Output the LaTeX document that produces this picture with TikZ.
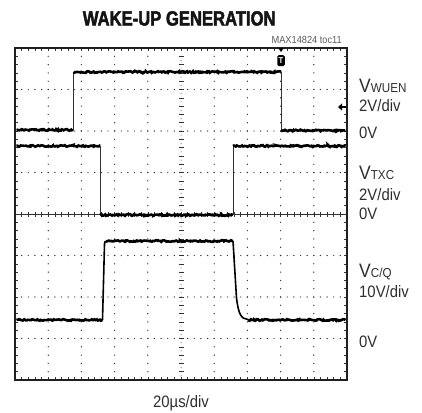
\documentclass[tikz,border=0pt]{standalone}
\usepackage{fontspec}
\setmainfont{Liberation Sans}
\newfontfamily\labfont[FakeStretch=0.9]{Liberation Sans}
\newfontfamily\titlefont[FakeStretch=0.81,FakeBold=2.2]{Liberation Sans Bold}
\usetikzlibrary{decorations.pathmorphing}
\definecolor{gridc}{HTML}{333333}
\newcommand\vlab[1]{{\fontsize{19.5}{20}\selectfont V}\raisebox{-0.6bp}{\fontsize{13}{13}\selectfont #1}}
\tikzset{
  lab/.style={anchor=base west, inner sep=0pt, text=black!82, font=\labfont\fontsize{16.6}{18}\selectfont},
  plateau/.style={line width=2.6bp, black, decorate, decoration={random steps, segment length=1.2bp, amplitude=0.8bp}},
  sigedge/.style={line width=0.9bp, black!80},
  slowedge/.style={line width=1.6bp, black},
  griddot/.style={fill=gridc},
  tick/.style={line width=0.6bp, gridc},
  frame/.style={line width=2.9bp, black!88}
}
\begin{document}
\begin{tikzpicture}[x=1bp,y=-1bp]
\pgfmathsetseed{7}
\useasboundingbox (0,0) rectangle (422,413);
% dotted grid
\foreach \i in {1,2,3,4,6,7,8,9} {
  \foreach \j in {1,...,39} { \fill[griddot] ({15+\i*33.2},{48+\j*8.3}) circle[radius=0.7bp]; }
}
\foreach \k in {1,2,3,5,6,7} {
  \foreach \j in {1,...,49} { \fill[griddot] ({15+\j*6.64},{48+\k*41.5}) circle[radius=0.7bp]; }
}
% border and centre ticks
\foreach \j in {1,...,49} {
  \draw[tick] ({15+\j*6.64},48) -- ++(0,2.8);
  \draw[tick] ({15+\j*6.64},380) -- ++(0,-2.8);
  \draw[tick] ({15+\j*6.64},211.5) -- ++(0,5);
}
\foreach \j in {1,...,39} {
  \draw[tick] (15,{48+\j*8.3}) -- ++(2.8,0);
  \draw[tick] (347,{48+\j*8.3}) -- ++(-2.8,0);
  \draw[tick] (178.5,{48+\j*8.3}) -- ++(5,0);
  \fill[griddot] (181,{48+\j*8.3+4.15}) circle[radius=0.5bp];
}
\draw[tick] (15,214) -- (347,214);
% frame
\draw[frame] (15,48) rectangle (347,380);
% WUEN trace
\draw[plateau] (16.5,130) -- (73.5,130);
\draw[sigedge] (73.5,130) -- (73.5,72);
\draw[plateau] (73.5,72) -- (281,72);
\draw[sigedge] (281,72) -- (281,130.5);
\draw[plateau] (281,130.5) -- (345.5,130.5);
% TXC trace
\draw[plateau] (16.5,146) -- (100,146);
\draw[sigedge] (100,146) -- (100,215);
\draw[plateau] (100,215) -- (233,215);
\draw[sigedge] (233,215) -- (233,146);
\draw[plateau] (233,146) -- (345.5,146);
% C/Q trace
\draw[plateau] (16.5,320) -- (102.5,320);
\draw[slowedge] (102.5,320) -- (104.5,244) .. controls (104.8,241.5) .. (107,241);
\draw[plateau] (106,241) -- (233,241);
\draw[slowedge] (233,241) -- (236.5,298) .. controls (238.5,314) and (241,319) .. (248,319.5);
\draw[plateau] (248,320) -- (345.5,320);
% trigger marker
\fill (278.3,48) -- (283.7,48) -- (281,52) -- cycle;
\node[fill=black, rounded corners=1.5bp, text=white, inner sep=0pt, minimum width=7.5bp, minimum height=11bp, font=\labfont\bfseries\fontsize{8.5}{8.5}\selectfont] (trig) at (281,60.5) {T};
% ground marker
\fill (338,107) -- (342.2,103.3) -- (342.2,110.7) -- cycle;
\draw[line width=1.2bp] (342,107) -- (346,107);
% labels
\node[anchor=base, inner sep=0pt, text=black!92] (title) at (179.2,25.5) {\titlefont\fontsize{20.6}{22}\selectfont WAKE-UP GENERATION};
\node[anchor=base east, inner sep=0pt, text=black!65] (toc) at (342,43) {\labfont\fontsize{10.3}{11}\selectfont MAX14824 toc11};
\node[lab] (vw) at (359,92) {\vlab{WUEN}};
\node[lab] (vw2) at (359,111.5) {2V/div};
\node[lab] (vw0) at (359,138) {0V};
\node[lab] (vt) at (359,179) {\vlab{TXC}};
\node[lab] (vt2) at (359,200) {2V/div};
\node[lab] (vt0) at (359,219.5) {0V};
\node[lab] (vc) at (359,277) {\vlab{C/Q}};
\node[lab] (vc2) at (359,297) {10V/div};
\node[lab] (vc0) at (359,347) {0V};
\node[lab, anchor=base] (tb) at (181,407) {20µs/div};
\end{tikzpicture}
\end{document}
